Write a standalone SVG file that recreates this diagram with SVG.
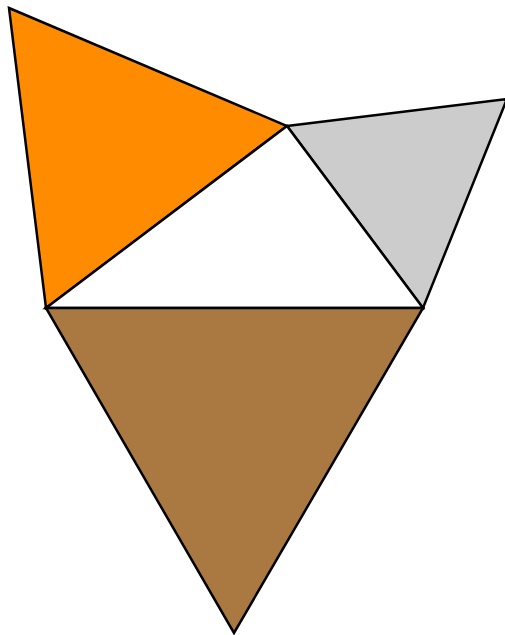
<svg xmlns="http://www.w3.org/2000/svg" width="505" height="635" viewBox="0 0 505 635">
<style>
.f{stroke:#000;stroke-width:2.5;stroke-linejoin:miter}
</style>
<rect width="505" height="635" fill="#fff"/>
<g id="orange"><polygon class="f" fill="#ff8c00" points="9,8 287,126 46,308"/></g>
<g id="gray"><polygon class="f" fill="#cccccc" points="287,126 507,99 423,308"/></g>
<g id="white"><polygon class="f" fill="#ffffff" points="287,126 46,308 423,308"/></g>
<g id="brown"><polygon class="f" fill="#aa7942" points="46,308 423,308 234,633"/></g>
</svg>
